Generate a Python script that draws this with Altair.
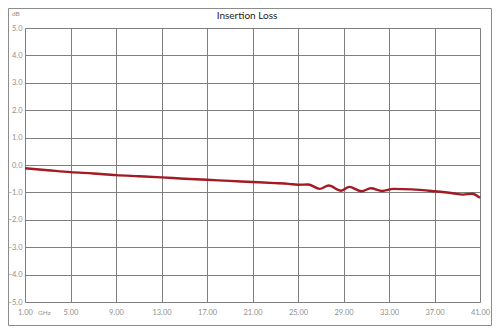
import altair as alt
import pandas as pd

freq_ghz = [1, 3, 5, 7, 9, 11, 13, 15, 17, 19, 21, 23, 24.2, 25, 25.9, 26.9, 27.7,
            28.8, 29.5, 30.6, 31.4, 32.4, 33.4, 35, 37, 38.6, 39.5, 40.3, 41]
loss_db = [-0.12, -0.19, -0.26, -0.31, -0.37, -0.41, -0.45, -0.50, -0.54, -0.58,
           -0.62, -0.66, -0.69, -0.72, -0.71, -0.87, -0.75, -0.94, -0.80, -0.96,
           -0.85, -0.95, -0.87, -0.89, -0.96, -1.03, -1.08, -1.05, -1.20]
x_ticks = [1, 5, 9, 13, 17, 21, 25, 29, 33, 37, 41]
y_ticks = [-5, -4, -3, -2, -1, 0, 1, 2, 3, 4, 5]

title_text = "Insertion Loss"
x_unit = "GHz"
y_unit = "dB"

df = pd.DataFrame({"f": freq_ghz, "v": loss_db})
one = pd.DataFrame({"a": [0]})

W, H = 455, 274
FONT = "Lato"
GRAY = "#8f8f8f"

line = alt.Chart(df).mark_line(
    color="#A31A22", strokeWidth=2.4, interpolate="monotone"
).encode(
    x=alt.X("f:Q", scale=alt.Scale(domain=[1, 41], nice=False, zero=False),
            axis=alt.Axis(values=x_ticks, format=".2f", title=None, ticks=False,
                          domain=False, labelPadding=6, labelFontSize=7.5,
                          labelFlush=False, labelBound=False,
                          labelColor=GRAY, labelFont=FONT, gridColor="#7f7f7f",
                          gridWidth=1, gridOpacity=1)),
    y=alt.Y("v:Q", scale=alt.Scale(domain=[-5, 5], nice=False, zero=False),
            axis=alt.Axis(values=y_ticks, format=".1f", title=None, ticks=False,
                          domain=False, labelPadding=3, labelFontSize=7.5,
                          labelFlush=False, labelBound=False,
                          labelColor=GRAY, labelFont=FONT, gridColor="#7f7f7f",
                          gridWidth=1, gridOpacity=1)),
)

title = alt.Chart(one).mark_text(
    text=title_text, font=FONT, fontSize=10, color="#222222", align="center",
    baseline="middle"
).encode(x=alt.value(222), y=alt.value(-12))

xunit = alt.Chart(one).mark_text(
    text=x_unit, font=FONT, fontSize=6.5, color=GRAY, align="left", baseline="middle"
).encode(x=alt.value(13), y=alt.value(285))

yunit = alt.Chart(one).mark_text(
    text=y_unit, font=FONT, fontSize=6.5, color=GRAY, align="left", baseline="middle"
).encode(x=alt.value(-13), y=alt.value(-14))

frame = alt.Chart(one).mark_rect(
    fill="white", fillOpacity=0, stroke="#8c8c8c", strokeWidth=1
).encode(x=alt.value(-16.5), x2=alt.value(466.5), y=alt.value(-19.5), y2=alt.value(297.5))

chart = alt.layer(frame, line, title, xunit, yunit).properties(
    width=W, height=H,
    padding={"left": 17, "top": 20, "right": 12, "bottom": 24},
    autosize=alt.AutoSizeParams(type="none"),
).configure_view(stroke="#7f7f7f", strokeWidth=1).configure(background="white")

chart.save("out.html", embed_options={"renderer": "svg", "actions": False})
